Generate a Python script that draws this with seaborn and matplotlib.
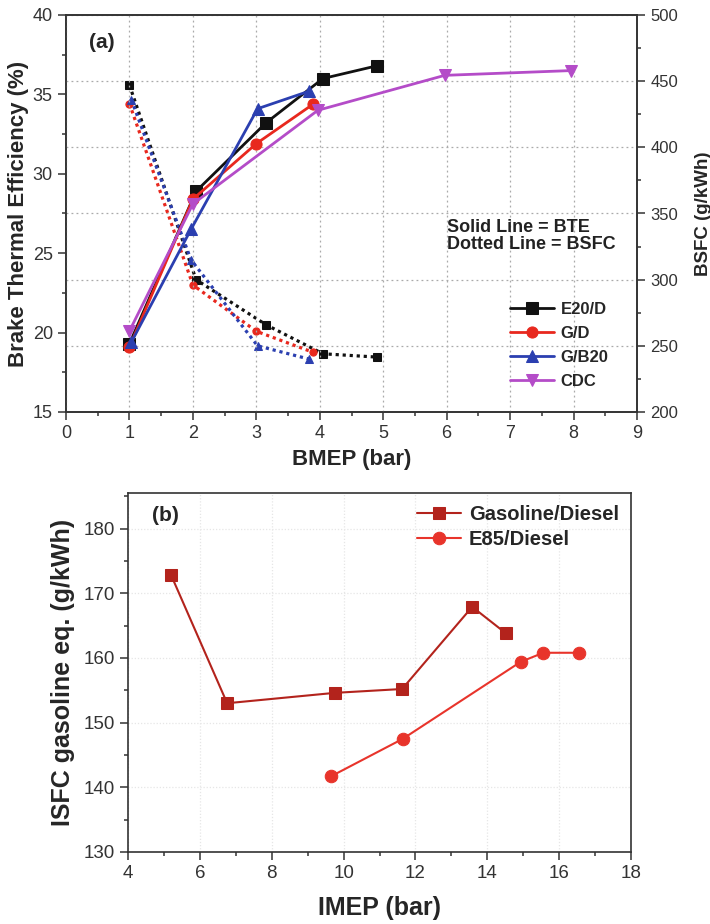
import numpy as np
import pandas as pd
import matplotlib
matplotlib.use("Agg")
import matplotlib.pyplot as plt
from matplotlib.ticker import MultipleLocator
import seaborn as sns

sns.set_style("ticks")
plt.rcParams["font.family"] = ["Liberation Sans", "DejaVu Sans"]

# ---- Panel (a): BTE (solid) and BSFC (dotted) vs BMEP ----
e20d_bmep = [1.0, 2.05, 3.15, 4.05, 4.9]
e20d_bte = [19.3, 28.9, 33.2, 36.0, 36.8]
e20d_bsfc = [447, 300, 266, 244, 241.5]

gd_bmep = [1.0, 2.0, 3.0, 3.9]
gd_bte = [19.1, 28.4, 31.9, 34.4]
gd_bsfc = [433, 296, 261, 245]

gb20_bmep = [1.03, 1.97, 3.02, 3.83]
gb20_bte = [19.4, 26.5, 34.1, 35.2]
gb20_bsfc = [436, 315, 250, 240]

cdc_bmep = [1.0, 2.0, 3.97, 5.97, 7.96]
cdc_bte = [20.1, 28.1, 34.0, 36.2, 36.5]

series_a = [
    ("E20/D", e20d_bmep, e20d_bte, e20d_bsfc, "#111111", "s"),
    ("G/D", gd_bmep, gd_bte, gd_bsfc, "#e8281e", "o"),
    ("G/B20", gb20_bmep, gb20_bte, gb20_bsfc, "#2b3fb0", "^"),
    ("CDC", cdc_bmep, cdc_bte, None, "#b44cc8", "v"),
]

# ---- Panel (b): ISFC vs IMEP ----
gas_imep = [5.2, 6.76, 9.75, 11.63, 13.58, 14.52]
gas_isfc = [172.8, 153.0, 154.6, 155.2, 167.9, 163.8]
e85_imep = [9.65, 11.65, 14.93, 15.56, 16.55]
e85_isfc = [141.7, 147.5, 159.4, 160.8, 160.8]

TICK_COLOR = "#333333"
fig = plt.figure(figsize=(7.1, 9.24), dpi=100)

ax = fig.add_axes([66 / 710, 1 - 412 / 924, 571 / 710, 397 / 924])
ax2 = ax.twinx()

for name, x, bte, bsfc, col, mk in series_a:
    sns.lineplot(x=x, y=bte, ax=ax, color=col, marker=mk, markersize=8,
                 markeredgecolor=col, linewidth=2.0, sort=False, label=name,
                 zorder=3)
    if bsfc is not None:
        sns.lineplot(x=x, y=bsfc, ax=ax2, color=col, marker=mk, markersize=5.2,
                     markeredgecolor=col, linewidth=2.3, linestyle=(0, (1, 1.2)),
                     sort=False, zorder=3, legend=False)

ax.set_xlim(0, 9)
ax.set_ylim(15, 40)
ax2.set_ylim(200, 500)
ax.xaxis.set_major_locator(MultipleLocator(1))
ax.xaxis.set_minor_locator(MultipleLocator(0.5))
ax.yaxis.set_major_locator(MultipleLocator(5))
ax.yaxis.set_minor_locator(MultipleLocator(2.5))
ax2.yaxis.set_major_locator(MultipleLocator(50))
ax2.yaxis.set_minor_locator(MultipleLocator(25))
ax.grid(axis="x", color="#aaaaaa", linestyle=(0, (1.5, 2.5)), linewidth=0.9)
ax2.grid(axis="y", color="#aaaaaa", linestyle=(0, (1.5, 2.5)), linewidth=0.9, zorder=0)
ax2.set_axisbelow(True)

for a in (ax, ax2):
    a.tick_params(which="both", direction="out", colors=TICK_COLOR, labelsize=13)
    a.tick_params(which="major", length=6, width=1.1)
    a.tick_params(which="minor", length=3, width=1.1)
    for s in a.spines.values():
        s.set_color("#333333")
        s.set_linewidth(1.2)
ax2.tick_params(labelsize=12)
ax.tick_params(top=False, which="both")

ax.set_xlabel("BMEP (bar)", fontsize=16, fontweight="bold", labelpad=5)
ax.set_ylabel("Brake Thermal Efficiency (%)", fontsize=16, fontweight="bold", labelpad=3)
ax2.set_ylabel("BSFC (g/kWh)", fontsize=13.5, fontweight="bold", labelpad=12)
ax.text(0.04, 0.955, "(a)", transform=ax.transAxes, fontsize=15,
        fontweight="bold", va="top")
ax.text(0.668, 0.485, "Solid Line = BTE\nDotted Line = BSFC", transform=ax.transAxes,
        fontsize=13, fontweight="bold", va="top", linespacing=0.95, color="#222222")
leg = ax.legend(loc="lower left", bbox_to_anchor=(0.752, 0.02), frameon=False,
                handlelength=2.6, labelspacing=0.55, handletextpad=0.4,
                prop={"weight": "bold", "size": 12})
ax.set_zorder(ax2.get_zorder() + 1)
ax.patch.set_visible(False)

# ---- Panel (b) ----
bx = fig.add_axes([128 / 710, 1 - 852 / 924, 503 / 710, 359 / 924])
sns.lineplot(x=gas_imep, y=gas_isfc, ax=bx, color="#b3231c", marker="s",
             markersize=8.2, markeredgecolor="#b3231c", linewidth=1.5, sort=False,
             label="Gasoline/Diesel")
sns.lineplot(x=e85_imep, y=e85_isfc, ax=bx, color="#e8342b", marker="o",
             markersize=9, markeredgecolor="#e8342b", linewidth=1.5, sort=False,
             label="E85/Diesel")
bx.set_xlim(4, 18)
bx.set_ylim(130, 185.5)
bx.xaxis.set_major_locator(MultipleLocator(2))
bx.xaxis.set_minor_locator(MultipleLocator(1))
bx.yaxis.set_major_locator(MultipleLocator(10))
bx.yaxis.set_minor_locator(MultipleLocator(5))
bx.grid(which="major", color="#e6e6e6", linestyle=(0, (1, 1.5)), linewidth=0.9)
bx.set_axisbelow(True)
bx.tick_params(which="both", direction="out", colors=TICK_COLOR, labelsize=13.5)
bx.tick_params(which="major", length=6, width=1.1)
bx.tick_params(which="minor", length=3, width=1.1)
for s in bx.spines.values():
    s.set_color("#333333")
    s.set_linewidth(1.2)
bx.set_xlabel("IMEP (bar)", fontsize=18, fontweight="bold", labelpad=10)
bx.set_ylabel("ISFC gasoline eq. (g/kWh)", fontsize=18, fontweight="bold", labelpad=6)
bx.text(0.048, 0.965, "(b)", transform=bx.transAxes, fontsize=15,
        fontweight="bold", va="top")
bx.legend(loc="upper right", frameon=False, handlelength=2.2, handletextpad=0.4,
          labelspacing=0.3, borderaxespad=0.2, prop={"weight": "bold", "size": 14.5})

fig.savefig("out.png", dpi=100)
